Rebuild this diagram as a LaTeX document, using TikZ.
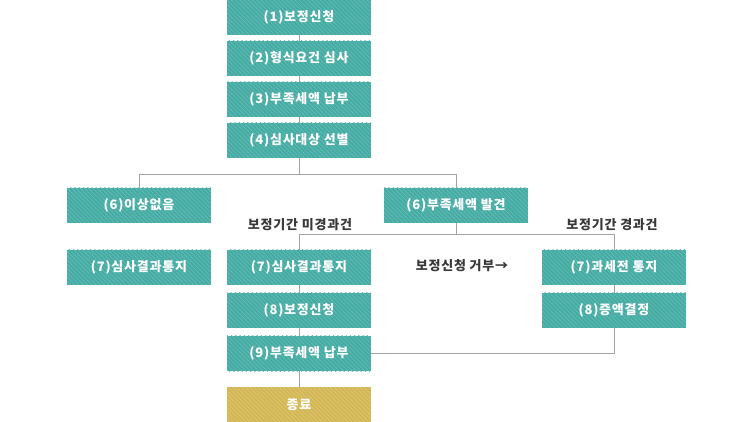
\documentclass[tikz,border=0pt]{standalone}
\usepackage{fontspec}
\setmainfont{Noto Sans CJK KR}
\newfontfamily\boxfont[LetterSpace=6]{Noto Sans CJK KR}
\usetikzlibrary{patterns.meta}
\definecolor{tealbox}{HTML}{45ABA3}
\definecolor{tealline}{HTML}{62BDB6}
\definecolor{goldbox}{HTML}{D3B755}
\definecolor{goldline}{HTML}{DFC672}
\definecolor{wire}{HTML}{A3A3A3}
\definecolor{lbltext}{HTML}{383838}
\begin{document}
\begin{tikzpicture}[x=1pt,y=-1pt,
  stepbox/.style={minimum width=144pt,minimum height=35pt,inner sep=0pt,
    preaction={fill=tealbox},
    pattern={Lines[angle=-45,distance=3pt,line width=0.7pt]},pattern color=tealline,
    text=white,font=\boxfont\bfseries\fontsize{13}{13}\selectfont},
  endbox/.style={stepbox,preaction={fill=goldbox},pattern color=goldline},
  lbl/.style={text=lbltext,inner sep=0pt,font=\boxfont\bfseries\fontsize{13}{13}\selectfont},
  wire/.style={draw=wire,line width=1pt}]
\useasboundingbox (0,0) rectangle (753,422);
% top chain
\node[stepbox] (b1) at (299,17.5) {(1)보정신청};
\node[stepbox] (b2) at (299,58.5) {(2)형식요건 심사};
\node[stepbox] (b3) at (299,99.5) {(3)부족세액 납부};
\node[stepbox] (b4) at (299,140.5) {(4)심사대상 선별};
% left branch
\node[stepbox] (n6) at (139,205.5) {(6)이상없음};
\node[stepbox] (n7) at (139,267.5) {(7)심사결과통지};
% middle branch
\node[stepbox] (f6) at (456,205.5) {(6)부족세액 발견};
\node[stepbox] (m7) at (299,267.5) {(7)심사결과통지};
\node[stepbox] (m8) at (299,310.5) {(8)보정신청};
\node[stepbox] (m9) at (299,353.5) {(9)부족세액 납부};
\node[endbox] (fin) at (299,404.5) {종료};
% right branch
\node[stepbox] (r7) at (614,267.5) {(7)과세전 통지};
\node[stepbox] (r8) at (614,310.5) {(8)증액결정};
% labels
\node[lbl] (lm) at (300,225) {보정기간 미경과건};
\node[lbl] (lr) at (612,225) {보정기간 경과건};
\node[lbl] (lx) at (462,266) {보정신청 거부→};
% connectors
\coordinate (s4) at (299,175);
\coordinate (s6) at (456,235);
\draw[wire] (b1) -- (b2);
\draw[wire] (b2) -- (b3);
\draw[wire] (b3) -- (b4);
\draw[wire] (b4.south) -- (s4) -| (n6.north);
\draw[wire] (s4) -| (f6.north);
\draw[wire] (f6.south) -- (s6) -| (m7.north);
\draw[wire] (s6) -| (r7.north);
\draw[wire] (m7) -- (m8);
\draw[wire] (m8) -- (m9);
\draw[wire] (m9) -- (fin);
\draw[wire] (r7) -- (r8);
\draw[wire] (r8.south) |- (m9.east);
\end{tikzpicture}
\end{document}
